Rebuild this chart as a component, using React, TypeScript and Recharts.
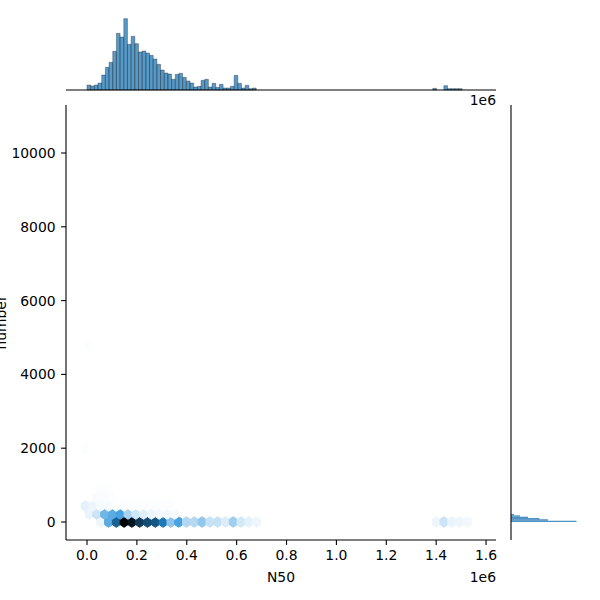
import React from 'react';
import { ScatterChart, Scatter, BarChart, Bar, XAxis, YAxis } from 'recharts';

const FONT = '"DejaVu Sans", sans-serif';

// axes of the joint plot
const xDomain = [-84200, 1639900];
const yDomain = [-488, 11301];
const xTicks = [0, 200000, 400000, 600000, 800000, 1000000, 1200000, 1400000, 1600000];
const yTicks = [0, 2000, 4000, 6000, 8000, 10000];

// top marginal: histogram of N50 (bins start at 0)
const n50BinWidth = 14750;
const n50Counts = [
  15, 12, 15, 21, 45, 68, 83, 116, 170, 159, 214, 137, 161, 139, 114, 117, 111, 104, 93, 77, 60, 51, 48,
  32, 47, 50, 38, 27, 21, 9, 11, 29, 32, 9, 20, 8, 17, 6, 6, 11, 44, 20, 6, 14, 4, 6,
];
const n50OutlierBins = [94, 97, 98, 99, 100, 101];
const n50OutlierCounts = [5, 13, 4, 4, 4, 4];

// right marginal: histogram of number (bins start at 0)
const numberBinWidth = 36;
const numberCounts = [262, 148, 114, 68, 36, 12];

// hexbin cells: rows of hexagons, counts as % of the darkest cell
const hexDx = 31260;
const rowY = [0, 217, 434, 651, 868];
const rowStartX = [54900, 8000, -7700, 39260, 54900];
const rowCounts = [
  [4, 38, 66, 100, 93, 79, 73, 70, 58, 27, 42, 18, 17, 25, 13, 13, 8, 22, 10, 6, 4],
  [5, 12, 33, 38, 42, 20, 11, 7, 4, 3, 3, 2],
  [6, 4, 2, 2, 1, 1, 1, 1, 1, 1, 1, 1],
  [1.5, 1.5, 1],
  [1, 1],
];
const farHexX = [1400000, 1431300, 1462600, 1493800, 1525100];
const farHexCounts = [4, 12, 5, 4, 3];
const strayHexX = [8000, -7700];
const strayHexY = [4800, 1950];
const strayHexCounts = [1, 1];

const hexes: { x: number; y: number; c: number }[] = [];
rowCounts.forEach((row, j) =>
  row.forEach((c, k) => hexes.push({ x: rowStartX[j] + k * hexDx, y: rowY[j], c }))
);
farHexX.forEach((x, i) => hexes.push({ x, y: 0, c: farHexCounts[i] }));
strayHexX.forEach((x, i) => hexes.push({ x, y: strayHexY[i], c: strayHexCounts[i] }));

const n50Hist = n50Counts.map((n, i) => ({ x: (i + 0.5) * n50BinWidth, n }));
n50OutlierBins.forEach((b, i) => n50Hist.push({ x: (b + 0.5) * n50BinWidth, n: n50OutlierCounts[i] }));

const numberHist = numberCounts.map((n, i) => ({ y: (i + 0.5) * numberBinWidth, n }));

// plot area size of the joint axes
const PLOT_W = 430;
const PLOT_H = 435;
const pxPerX = PLOT_W / (xDomain[1] - xDomain[0]);
const pxPerY = PLOT_H / (yDomain[1] - yDomain[0]);

const tickStyle = { fill: '#000', fontSize: 13.9, fontFamily: FONT };
const lineStyle = { stroke: '#000', strokeWidth: 1.1 };

// seaborn hex cmap: C0 hue, lightness from 1 down to 0
function hexColor(c: number) {
  const l = 1 - c / 100;
  const s = 0.706;
  const h = 204.6 / 360;
  const q = l < 0.5 ? l * (1 + s) : l + s - l * s;
  const p = 2 * l - q;
  const f = (t: number) => {
    t = (t + 1) % 1;
    if (t < 1 / 6) return p + (q - p) * 6 * t;
    if (t < 1 / 2) return q;
    if (t < 2 / 3) return p + (q - p) * (2 / 3 - t) * 6;
    return p;
  };
  const to = (v: number) => Math.round(Math.max(0, Math.min(1, v)) * 255);
  return `rgb(${to(f(h + 1 / 3))},${to(f(h))},${to(f(h - 1 / 3))})`;
}

function Hexagon(props: any) {
  const { cx, cy, payload } = props;
  const hw = (hexDx * pxPerX) / 2;
  const sy = 2 * 217 * pxPerY;
  const pts = [
    [0, -sy / 3],
    [hw, -sy / 6],
    [hw, sy / 6],
    [0, sy / 3],
    [-hw, sy / 6],
    [-hw, -sy / 6],
  ]
    .map(([dx, dy]) => `${cx + dx},${cy + dy}`)
    .join(' ');
  const color = hexColor(payload.c);
  return <polygon points={pts} fill={color} stroke={color} strokeWidth={1} />;
}

function XLabels(props: any) {
  const { viewBox } = props;
  return (
    <g fontFamily={FONT} fontSize={13.9} fill="#000">
      <text x={viewBox.x + viewBox.width / 2} y={viewBox.y + 42} textAnchor="middle">
        N50
      </text>
      <text x={viewBox.x + viewBox.width} y={viewBox.y + 42} textAnchor="end">
        1e6
      </text>
    </g>
  );
}

function YLabel(props: any) {
  const { viewBox } = props;
  const cy = viewBox.y + viewBox.height / 2;
  return (
    <text
      x={6}
      y={cy}
      transform={`rotate(-90, 6, ${cy})`}
      textAnchor="middle"
      fontFamily={FONT}
      fontSize={13.9}
      fill="#000"
    >
      number
    </text>
  );
}

function TopOffset(props: any) {
  const { viewBox } = props;
  return (
    <text
      x={viewBox.x + viewBox.width}
      y={viewBox.y + 14.5}
      textAnchor="end"
      fontFamily={FONT}
      fontSize={13.9}
      fill="#000"
    >
      1e6
    </text>
  );
}

export default function App() {
  return (
    <div style={{ position: 'absolute', left: 0, top: 0, width: 600, height: 600, background: '#fff' }}>
      <div style={{ position: 'absolute', left: 0, top: 0 }}>
        <ScatterChart width={600} height={600} margin={{ top: 105, right: 104, bottom: 0, left: 0 }}>
          <XAxis
            type="number"
            dataKey="x"
            domain={xDomain}
            ticks={xTicks}
            interval={0}
            allowDataOverflow
            height={60}
            tickFormatter={(v: number) => (v / 1e6).toFixed(1)}
            tick={tickStyle}
            tickLine={lineStyle}
            axisLine={lineStyle}
            tickSize={4.9}
            tickMargin={4.9}
            label={<XLabels />}
          />
          <YAxis
            type="number"
            dataKey="y"
            domain={yDomain}
            ticks={yTicks}
            interval={0}
            allowDataOverflow
            width={66}
            tick={tickStyle}
            tickLine={lineStyle}
            axisLine={lineStyle}
            tickSize={4.9}
            tickMargin={5.5}
            label={<YLabel />}
          />
          <Scatter data={hexes} shape={Hexagon} isAnimationActive={false} />
        </ScatterChart>
      </div>

      <div style={{ position: 'absolute', left: 0, top: 0 }}>
        <BarChart width={600} height={110} data={n50Hist} margin={{ top: 15, right: 104, bottom: 0, left: 66 }}>
          <XAxis
            type="number"
            dataKey="x"
            domain={xDomain}
            ticks={xTicks}
            interval={0}
            allowDataOverflow
            height={20}
            tick={false}
            tickLine={lineStyle}
            axisLine={lineStyle}
            tickSize={4.9}
            label={<TopOffset />}
          />
          <YAxis type="number" domain={[0, 225]} hide />
          <Bar
            dataKey="n"
            fill="#1f77b4"
            fillOpacity={0.75}
            stroke="#000"
            strokeOpacity={0.6}
            strokeWidth={0.5}
            barSize={n50BinWidth * pxPerX - 0.01}
            isAnimationActive={false}
          />
        </BarChart>
      </div>

      <div style={{ position: 'absolute', left: 490, top: 0 }}>
        <BarChart
          layout="vertical"
          width={110}
          height={600}
          data={numberHist}
          margin={{ top: 105, right: 14, bottom: 60, left: 11 }}
        >
          <XAxis type="number" dataKey="n" domain={[0, 300]} hide />
          <YAxis
            type="number"
            dataKey="y"
            domain={yDomain}
            ticks={yTicks}
            interval={0}
            allowDataOverflow
            reversed
            width={10}
            tick={false}
            tickLine={lineStyle}
            axisLine={lineStyle}
            tickSize={4.9}
          />
          <Bar
            dataKey="n"
            fill="#1f77b4"
            fillOpacity={0.8}
            barSize={numberBinWidth * pxPerY - 0.01}
            isAnimationActive={false}
          />
        </BarChart>
      </div>
    </div>
  );
}
